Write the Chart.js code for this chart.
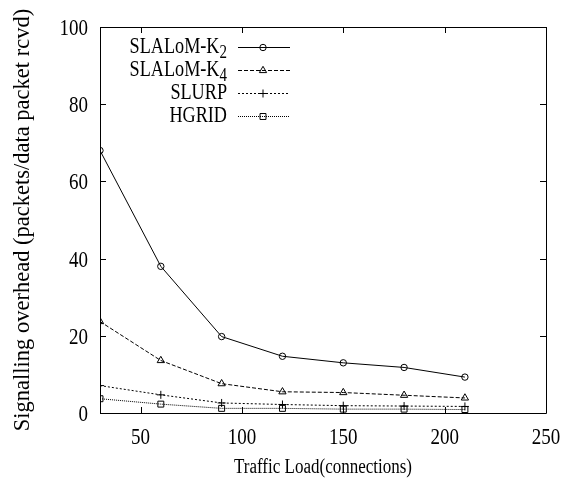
<!DOCTYPE html>
<html>
<head>
<meta charset="utf-8">
<script src="https://cdn.jsdelivr.net/npm/chart.js@4/dist/chart.umd.min.js"></script>
<style>
  html, body { margin: 0; padding: 0; background: #fff; }
  canvas { display: block; }
</style>
</head>
<body>
<canvas id="chart" width="572" height="487"></canvas>
<script>
// Traffic load (connections) on the x axis
const connections = [30, 60, 90, 120, 150, 180, 210];

// Signalling overhead per protocol
const slalomK2 = [68.0, 38.0, 19.8, 14.7, 13.0, 11.8, 9.3];
const slalomK4 = [23.7, 13.6, 7.6, 5.5, 5.3, 4.6, 3.9];
const slurp    = [7.1, 4.7, 2.6, 2.2, 1.9, 1.8, 1.7];
const hgrid    = [3.7, 2.3, 1.2, 1.2, 1.0, 1.0, 0.9];

// Axis ticks
const xTickValues = [50, 100, 150, 200, 250];
const yTickValues = [0, 20, 40, 60, 80, 100];

// Axis titles
const xTitle = 'Traffic Load(connections)';
const yTitle = 'Signalling overhead (packets/data packet rcvd)';

// Legend labels: base text plus subscript
const seriesNames = ['SLALoM-K', 'SLALoM-K', 'SLURP', 'HGRID'];
const seriesSubscripts = ['2', '4', '', ''];

const SERIF = "'Liberation Serif', 'Times New Roman', serif";
const TEXT_STRETCH = 1.22; // tall, narrow glyphs

function toPoints(values) {
  return connections.map((x, i) => ({ x: x, y: values[i] }));
}

const styles = [
  { dash: [],     pointStyle: 'circle',   radius: 3.2 },
  { dash: [4, 2], pointStyle: 'triangle', radius: 4.2 },
  { dash: [2, 2], pointStyle: 'cross',    radius: 4 },
  { dash: [1, 1], pointStyle: 'rect',     radius: 4.2 }
];
const seriesValues = [slalomK2, slalomK4, slurp, hgrid];

const datasets = seriesValues.map((vals, i) => ({
  label: seriesNames[i] + seriesSubscripts[i],
  data: toPoints(vals),
  borderColor: '#000',
  borderWidth: 1,
  borderDash: styles[i].dash,
  pointStyle: styles[i].pointStyle,
  pointRadius: styles[i].radius,
  pointBorderColor: '#000',
  pointBorderWidth: 1,
  pointBackgroundColor: 'rgba(0,0,0,0)',
  tension: 0,
  fill: false
}));

// Draw text with a vertical stretch, anchored at its baseline
function tallText(ctx, str, x, baseline, size, align) {
  ctx.save();
  ctx.font = size + 'px ' + SERIF;
  ctx.textAlign = align;
  ctx.textBaseline = 'alphabetic';
  ctx.fillStyle = '#000';
  ctx.translate(x, baseline);
  ctx.scale(1, TEXT_STRETCH);
  ctx.fillText(str, 0, 0);
  ctx.restore();
}

// Frame around the plot area with inward tick marks on all sides
const framePlugin = {
  id: 'frame',
  afterDraw(chart) {
    const { ctx, chartArea: a, scales } = chart;
    const tl = 6;
    ctx.save();
    ctx.strokeStyle = '#000';
    ctx.lineWidth = 1;
    ctx.setLineDash([]);
    ctx.beginPath();
    ctx.rect(Math.round(a.left) + 0.5, Math.round(a.top) + 0.5,
             Math.round(a.right - a.left), Math.round(a.bottom - a.top));
    xTickValues.forEach(v => {
      const x = Math.round(scales.x.getPixelForValue(v)) + 0.5;
      ctx.moveTo(x, a.bottom); ctx.lineTo(x, a.bottom - tl);
      ctx.moveTo(x, a.top); ctx.lineTo(x, a.top + tl);
    });
    yTickValues.forEach(v => {
      const y = Math.round(scales.y.getPixelForValue(v)) + 0.5;
      ctx.moveTo(a.left, y); ctx.lineTo(a.left + tl, y);
      ctx.moveTo(a.right, y); ctx.lineTo(a.right - tl, y);
    });
    ctx.stroke();
    ctx.restore();
  }
};

// Tick labels and the x-axis title
const labelPlugin = {
  id: 'axisLabels',
  afterDraw(chart) {
    const { ctx, chartArea: a, scales } = chart;
    const size = 19;
    xTickValues.forEach(v => {
      tallText(ctx, String(v), scales.x.getPixelForValue(v), a.bottom + 31, size, 'center');
    });
    yTickValues.forEach(v => {
      tallText(ctx, String(v), a.left - 12, scales.y.getPixelForValue(v) + 8, size, 'right');
    });
    tallText(ctx, xTitle, (a.left + a.right) / 2, a.bottom + 60, 17, 'center');
  }
};

// Key inside the plot: right-aligned labels with subscripts, then line sample
const keyPlugin = {
  id: 'key',
  afterDraw(chart) {
    const { ctx, chartArea: a } = chart;
    const textRight = a.left + 127;
    const lineX0 = a.left + 138;
    const lineX1 = a.left + 190;
    const markX = a.left + 163;
    const rowY0 = a.top + 20;
    const rowGap = 23;
    const mainSize = 18.2;
    const subSize = 15;
    ctx.save();
    chart.data.datasets.forEach((ds, i) => {
      const y = Math.round(rowY0 + i * rowGap) + 0.5;
      ctx.font = subSize + 'px ' + SERIF;
      const subW = seriesSubscripts[i] ? ctx.measureText(seriesSubscripts[i]).width : 0;
      ctx.font = mainSize + 'px ' + SERIF;
      const mainW = ctx.measureText(seriesNames[i]).width;
      const startX = textRight - subW - mainW;
      tallText(ctx, seriesNames[i], startX, y + 5, mainSize, 'left');
      if (seriesSubscripts[i]) {
        tallText(ctx, seriesSubscripts[i], startX + mainW, y + 10, subSize, 'left');
      }
      // line sample
      ctx.strokeStyle = ds.borderColor;
      ctx.lineWidth = ds.borderWidth;
      ctx.setLineDash(ds.borderDash);
      ctx.beginPath();
      ctx.moveTo(lineX0, y);
      ctx.lineTo(lineX1, y);
      ctx.stroke();
      ctx.setLineDash([]);
      ctx.fillStyle = 'rgba(0,0,0,0)';
      ctx.strokeStyle = ds.pointBorderColor;
      ctx.lineWidth = ds.pointBorderWidth;
      Chart.helpers.drawPoint(ctx, {
        pointStyle: ds.pointStyle,
        radius: ds.pointRadius,
        rotation: 0,
        borderWidth: ds.pointBorderWidth
      }, markX, y);
    });
    ctx.restore();
  }
};

new Chart(document.getElementById('chart'), {
  type: 'line',
  data: { datasets: datasets },
  options: {
    responsive: false,
    animation: false,
    events: [],
    layout: { padding: { top: 27, right: 26, left: 0, bottom: 0 } },
    plugins: {
      legend: { display: false },
      tooltip: { enabled: false }
    },
    scales: {
      x: {
        type: 'linear',
        min: 30,
        max: 250,
        afterBuildTicks: s => { s.ticks = xTickValues.map(v => ({ value: v })); },
        afterFit: s => { s.height = 74; },
        grid: { display: false, drawTicks: false },
        border: { display: false },
        ticks: { display: false }
      },
      y: {
        type: 'linear',
        min: 0,
        max: 100,
        afterBuildTicks: s => { s.ticks = yTickValues.map(v => ({ value: v })); },
        afterFit: s => { s.width = 100; },
        grid: { display: false, drawTicks: false },
        border: { display: false },
        ticks: { display: false },
        title: {
          display: true,
          text: yTitle,
          color: '#000',
          font: { family: SERIF, size: 22.5 },
          padding: { top: 9.5, bottom: 0 }
        }
      }
    }
  },
  plugins: [framePlugin, labelPlugin, keyPlugin]
});
</script>
</body>
</html>
